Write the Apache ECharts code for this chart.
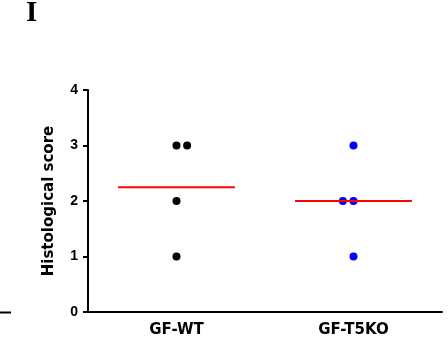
<!DOCTYPE html>
<html><head><meta charset="utf-8">
<script src="https://cdn.jsdelivr.net/npm/echarts@6/dist/echarts.min.js"></script>
<style>html,body{margin:0;padding:0;background:#fff}#c{width:448px;height:356px}</style>
</head><body><div id="c"></div>
<script>
const categories = ['GF-WT', 'GF-T5KO'];
const wtValues = [1, 2, 3, 3];
const koValues = [1, 2, 2, 3];
const groupColors = ['#000000', '#0000ff'];
const yTicks = [0, 1, 2, 3, 4];

const groups = [wtValues, koValues];
const jitterDir = [1, -1];
const series = [];
groups.forEach((vals, gi) => {
  const seen = {};
  const pts = vals.map(v => {
    const k = seen[v] || 0; seen[v] = k + 1;
    return [gi + jitterDir[gi] * 0.06 * k, v];
  });
  series.push({type: 'scatter', data: pts, symbolSize: 8,
    itemStyle: {color: groupColors[gi], opacity: 1}, z: 3});
  const mean = vals.reduce((a, b) => a + b, 0) / vals.length;
  series.push({type: 'line', data: [[gi - 0.33, mean], [gi + 0.33, mean]],
    symbol: 'none', lineStyle: {color: '#ff0000', width: 2}, z: 4, silent: true});
});

const FONT = 'DejaVu Sans';
const chart = echarts.init(document.getElementById('c'));
chart.setOption({
  animation: false,
  grid: {left: 88, right: 6, top: 90, bottom: 44},
  xAxis: {type: 'value', min: -0.5, max: 1.5, interval: 0.5,
    splitLine: {show: false}, axisTick: {show: false},
    axisLine: {show: true, lineStyle: {color: '#000', width: 2}},
    axisLabel: {margin: 11, color: '#000', fontFamily: FONT, fontWeight: 'bold', fontSize: 15,
      formatter: v => { const i = Math.round(v); return Math.abs(v - i) < 1e-6 && categories[i] ? categories[i] : ''; }}
  },
  yAxis: {type: 'value', min: yTicks[0], max: yTicks[yTicks.length - 1], interval: 1,
    splitLine: {show: false},
    axisLine: {show: true, onZero: false, lineStyle: {color: '#000', width: 2}},
    axisTick: {show: true, length: 5, lineStyle: {color: '#000', width: 2}},
    axisLabel: {margin: 10, color: '#000', fontFamily: 'Liberation Sans', fontWeight: 'bold', fontSize: 14},
    name: 'Histological score', nameLocation: 'middle', nameGap: 31,
    nameTextStyle: {color: '#000', fontFamily: FONT, fontWeight: 'bold', fontSize: 15}
  },
  graphic: [
    {type: 'text', left: 26, top: -1, style: {text: 'I', font: 'bold 29px "Liberation Serif"', fill: '#000'}},
    {type: 'line', shape: {x1: 0, y1: 312.5, x2: 11, y2: 312.5}, style: {stroke: '#000', lineWidth: 2}}
  ],
  series: series
});
</script></body></html>
